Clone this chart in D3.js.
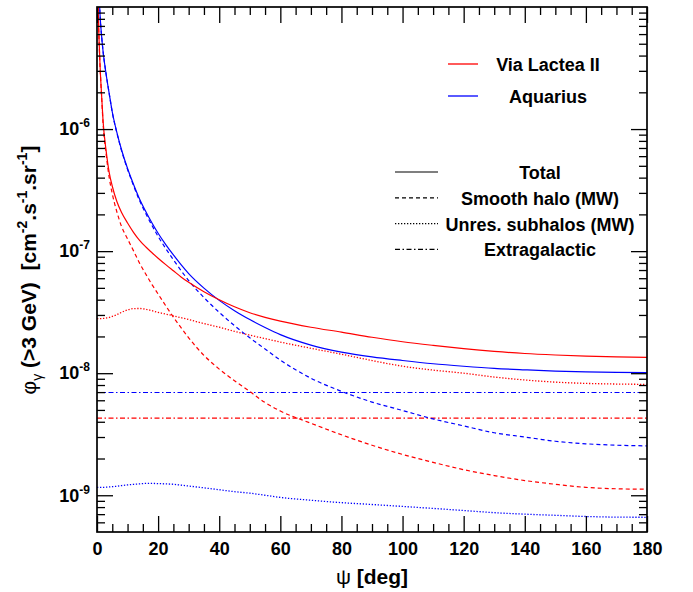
<!DOCTYPE html>
<html><head><meta charset="utf-8">
<script src="https://cdn.jsdelivr.net/npm/d3@7"></script>
<style>
body{margin:0;background:#fff;}
text{font-family:"Liberation Sans",Arial,Helvetica,sans-serif;font-weight:bold;fill:#000;white-space:pre;}
</style></head><body>
<div id="chart"></div>
<script>
// angular distance grid (deg), shared by all curves
var psi = [0, 0.3, 0.5, 0.75, 1, 1.5, 2, 3, 4, 5, 6.5, 8, 10, 12, 14, 16, 18, 20, 22.5, 25, 27.5, 30,
           35, 40, 45, 50, 55, 60, 70, 80, 90, 100, 110, 120, 130, 140, 150, 160, 170, 180];

// Via Lactea II
var vlTotal = [null, 1.3e-5, 7.5e-6, 4.8e-6, 3.3e-6, 1.9e-6, 1.15e-6, 6.6e-7, 4.4e-7, 3.4e-7, 2.55e-7, 2.08e-7, 1.7e-7,
               1.42e-7, 1.22e-7, 1.08e-7, 9.7e-8, 8.75e-8, 7.75e-8, 6.9e-8, 6.15e-8, 5.55e-8,
               4.65e-8, 4.0e-8, 3.5e-8, 3.13e-8, 2.87e-8, 2.67e-8, 2.38e-8, 2.17e-8, 1.97e-8, 1.81e-8,
               1.69e-8, 1.59e-8, 1.51e-8, 1.45e-8, 1.41e-8, 1.38e-8, 1.36e-8, 1.35e-8];
var vlSmooth = [null, 1.3e-5, 7.4e-6, 4.75e-6, 3.25e-6, 1.86e-6, 1.1e-6, 6.2e-7, 4.0e-7, 2.95e-7, 2.1e-7, 1.6e-7, 1.26e-7,
                1.0e-7, 7.9e-8, 6.46e-8, 5.32e-8, 4.45e-8, 3.57e-8, 2.88e-8, 2.36e-8, 1.95e-8,
                1.4e-8, 1.08e-8, 8.67e-9, 7.08e-9, 5.75e-9, 4.9e-9, 3.89e-9, 3.13e-9, 2.57e-9, 2.16e-9,
                1.86e-9, 1.62e-9, 1.45e-9, 1.32e-9, 1.23e-9, 1.16e-9, 1.13e-9, 1.12e-9];
var vlSub = [2.8e-8, 2.8e-8, 2.8e-8, 2.8e-8, 2.8e-8, 2.8e-8, 2.81e-8, 2.83e-8, 2.86e-8, 2.92e-8, 3.02e-8, 3.15e-8, 3.3e-8,
             3.38e-8, 3.39e-8, 3.34e-8, 3.25e-8, 3.15e-8, 3.05e-8, 2.95e-8, 2.85e-8, 2.75e-8,
             2.55e-8, 2.38e-8, 2.2e-8, 2.05e-8, 1.92e-8, 1.8e-8, 1.6e-8, 1.43e-8, 1.27e-8, 1.14e-8,
             1.06e-8, 1.0e-8, 9.3e-9, 8.8e-9, 8.45e-9, 8.25e-9, 8.15e-9, 8.1e-9];
var vlExtra = 4.28e-9;

// Aquarius
var aqTotal = [null, 2.1e-5, 1.6e-5, 1.15e-5, 8.6e-6, 5.8e-6, 4.3e-6, 2.8e-6, 1.95e-6, 1.38e-6, 9.4e-7, 6.8e-7, 4.75e-7,
               3.5e-7, 2.65e-7, 2.1e-7, 1.7e-7, 1.4e-7, 1.13e-7, 9.3e-8, 7.75e-8, 6.55e-8,
               4.98e-8, 3.95e-8, 3.25e-8, 2.75e-8, 2.37e-8, 2.07e-8, 1.7e-8, 1.49e-8, 1.36e-8, 1.27e-8,
               1.195e-8, 1.14e-8, 1.095e-8, 1.065e-8, 1.04e-8, 1.025e-8, 1.015e-8, 1.01e-8];
var aqSmooth = [null, 2.1e-5, 1.6e-5, 1.15e-5, 8.6e-6, 5.8e-6, 4.3e-6, 2.8e-6, 1.95e-6, 1.37e-6, 9.3e-7, 6.7e-7, 4.67e-7,
                3.42e-7, 2.57e-7, 2.02e-7, 1.62e-7, 1.32e-7, 1.05e-7, 8.5e-8, 6.94e-8, 5.74e-8,
                4.17e-8, 3.15e-8, 2.45e-8, 1.95e-8, 1.58e-8, 1.28e-8, 9.1e-9, 7.1e-9, 5.8e-9, 4.95e-9,
                4.22e-9, 3.7e-9, 3.25e-9, 3.0e-9, 2.77e-9, 2.64e-9, 2.57e-9, 2.54e-9];
var aqSub = [1.16e-9, 1.16e-9, 1.16e-9, 1.16e-9, 1.16e-9, 1.16e-9, 1.16e-9, 1.165e-9, 1.17e-9, 1.175e-9, 1.185e-9, 1.2e-9, 1.215e-9,
             1.23e-9, 1.24e-9, 1.25e-9, 1.25e-9, 1.245e-9, 1.24e-9, 1.23e-9, 1.21e-9, 1.19e-9,
             1.15e-9, 1.11e-9, 1.07e-9, 1.04e-9, 1.0e-9, 9.6e-10, 9.1e-10, 8.7e-10, 8.4e-10, 8.1e-10,
             7.8e-10, 7.5e-10, 7.2e-10, 7.0e-10, 6.85e-10, 6.7e-10, 6.62e-10, 6.6e-10];
var aqExtra = 6.95e-9;

var models = ['Via Lactea II', 'Aquarius'];
var components = ['Total', 'Smooth halo (MW)', 'Unres. subhalos (MW)', 'Extragalactic'];
var xTicks = [0, 20, 40, 60, 80, 100, 120, 140, 160, 180];
var yDecades = [1e-9, 1e-8, 1e-7, 1e-6];

var colors = {'Via Lactea II': '#ff0000', 'Aquarius': '#0000ff'};
var dashes = {'Total': null, 'Smooth halo (MW)': '4,3', 'Unres. subhalos (MW)': '1.3,1.7', 'Extragalactic': '5,2.5,1.5,2.5'};

var margin = {top: 7, right: 46, bottom: 60, left: 97},
    width = 693 - margin.left - margin.right,
    height = 592 - margin.top - margin.bottom;

var svg = d3.select('#chart').append('svg')
    .attr('width', 693).attr('height', 592);
var g = svg.append('g').attr('transform', 'translate(' + margin.left + ',' + margin.top + ')');

var x = d3.scaleLinear().domain([0, 180]).range([0, width]);
var y = d3.scaleLog().domain([5e-10, 1e-5]).range([height, 0]);

g.append('clipPath').attr('id', 'clip')
  .append('rect').attr('width', width).attr('height', height);

// curves
var series = [
  {m: 'Via Lactea II', c: 'Extragalactic', v: psi.map(function(){ return vlExtra; })},
  {m: 'Aquarius', c: 'Extragalactic', v: psi.map(function(){ return aqExtra; })},
  {m: 'Aquarius', c: 'Unres. subhalos (MW)', v: aqSub},
  {m: 'Via Lactea II', c: 'Unres. subhalos (MW)', v: vlSub},
  {m: 'Aquarius', c: 'Smooth halo (MW)', v: aqSmooth},
  {m: 'Via Lactea II', c: 'Smooth halo (MW)', v: vlSmooth},
  {m: 'Aquarius', c: 'Total', v: aqTotal},
  {m: 'Via Lactea II', c: 'Total', v: vlTotal}
];

var line = d3.line()
    .defined(function(d){ return d[1] != null; })
    .x(function(d){ return x(d[0]); })
    .y(function(d){ return y(d[1]); })
    .curve(d3.curveMonotoneX);

g.append('g').attr('clip-path', 'url(#clip)')
  .selectAll('path').data(series).enter().append('path')
    .attr('d', function(s){ return line(psi.map(function(p, i){ return [p, s.v[i]]; })); })
    .attr('fill', 'none')
    .attr('stroke', function(s){ return colors[s.m]; })
    .attr('stroke-width', function(s){ return s.c == 'Unres. subhalos (MW)' ? 1.3 : 1.2; })
    .attr('stroke-dasharray', function(s){ return dashes[s.c]; });

// axes, ROOT style: ticks inside on all four sides
var xMinor = d3.range(5, 180, 5).filter(function(d){ return d % 20 != 0; });
var yMinor = [];
[-10, -9, -8, -7, -6].forEach(function(e){
  for (var k = 2; k <= 9; k++) {
    var v = k * Math.pow(10, e);
    if (v > 5.01e-10 && v < 1e-5) yMinor.push(v);
  }
});

function tickStyle(sel) {
  sel.select('.domain').remove();
  sel.selectAll('.tick line').attr('stroke', '#000').attr('stroke-width', 1.3);
}

var xAxis = g.append('g').attr('transform', 'translate(0,' + height + ')')
  .call(d3.axisBottom(x).tickValues(xTicks).tickSize(-16).tickPadding(10).tickFormat(d3.format('d')))
  .call(tickStyle);
xAxis.selectAll('.tick text').style('font-size', '18px').attr('fill', '#000');
g.append('g').attr('transform', 'translate(0,' + height + ')')
  .call(d3.axisBottom(x).tickValues(xMinor).tickSize(-8).tickFormat('')).call(tickStyle);
g.append('g')
  .call(d3.axisTop(x).tickValues(xTicks).tickSize(-16).tickFormat('')).call(tickStyle);
g.append('g')
  .call(d3.axisTop(x).tickValues(xMinor).tickSize(-8).tickFormat('')).call(tickStyle);

var yAxis = g.append('g')
  .call(d3.axisLeft(y).tickValues(yDecades).tickSize(-16).tickPadding(7).tickFormat(function(d){ return ''; }))
  .call(tickStyle);
yAxis.selectAll('.tick text').each(function(d) {
  var t = d3.select(this).style('font-size', '18px').attr('fill', '#000');
  t.append('tspan').text('10');
  t.append('tspan').attr('dy', -8).style('font-size', '12px').text(String(Math.round(Math.log10(d))));
});
g.append('g')
  .call(d3.axisLeft(y).tickValues(yMinor).tickSize(-8).tickFormat('')).call(tickStyle);
g.append('g').attr('transform', 'translate(' + width + ',0)')
  .call(d3.axisRight(y).tickValues(yDecades).tickSize(-16).tickFormat('')).call(tickStyle);
g.append('g').attr('transform', 'translate(' + width + ',0)')
  .call(d3.axisRight(y).tickValues(yMinor).tickSize(-8).tickFormat('')).call(tickStyle);

// frame
g.append('rect').attr('width', width).attr('height', height)
  .attr('fill', 'none').attr('stroke', '#000').attr('stroke-width', 1.7);

// axis titles
svg.append('text')
  .attr('x', margin.left + width / 2).attr('y', 584)
  .attr('text-anchor', 'middle').style('font-size', '21px')
  .call(function(t){
    t.append('tspan').style('font-weight', 'normal').text('\u03c8');
    t.append('tspan').text(' [deg]');
  });

var yTitle = svg.append('text')
  .attr('transform', 'translate(36,270) rotate(-90)')
  .attr('text-anchor', 'middle').style('font-size', '21px');
yTitle.append('tspan').style('font-weight', 'normal').text('\u03c6');
yTitle.append('tspan').attr('dy', 6).style('font-size', '14px').style('font-weight', 'normal').text('\u03b3');
yTitle.append('tspan').attr('dy', -6).text(' (>3 GeV)  [cm');
yTitle.append('tspan').attr('dy', -9).style('font-size', '14px').text('-2');
yTitle.append('tspan').attr('dy', 9).text('.s');
yTitle.append('tspan').attr('dy', -9).style('font-size', '14px').text('-1');
yTitle.append('tspan').attr('dy', 9).text('.sr');
yTitle.append('tspan').attr('dy', -9).style('font-size', '14px').text('-1');
yTitle.append('tspan').attr('dy', 9).text(']');

// legend: models
var leg1 = svg.append('g').selectAll('g').data(models).enter().append('g')
  .attr('transform', function(d, i){ return 'translate(0,' + (64 + i * 32) + ')'; });
leg1.append('line').attr('x1', 448).attr('x2', 478)
  .attr('stroke', function(d){ return colors[d]; }).attr('stroke-width', 1.3);
leg1.append('text').attr('x', 548).attr('y', 6.5).attr('text-anchor', 'middle')
  .style('font-size', '18px').text(function(d){ return d; });

// legend: components
var leg2 = svg.append('g').selectAll('g').data(components).enter().append('g')
  .attr('transform', function(d, i){ return 'translate(0,' + (172 + i * 25.8) + ')'; });
leg2.append('line').attr('x1', 395).attr('x2', 438)
  .attr('stroke', '#000').attr('stroke-width', 1.2)
  .attr('stroke-dasharray', function(d){ return dashes[d]; });
leg2.append('text').attr('x', 540).attr('y', 7).attr('text-anchor', 'middle')
  .style('font-size', '18px').text(function(d){ return d; });
</script>
</body></html>
